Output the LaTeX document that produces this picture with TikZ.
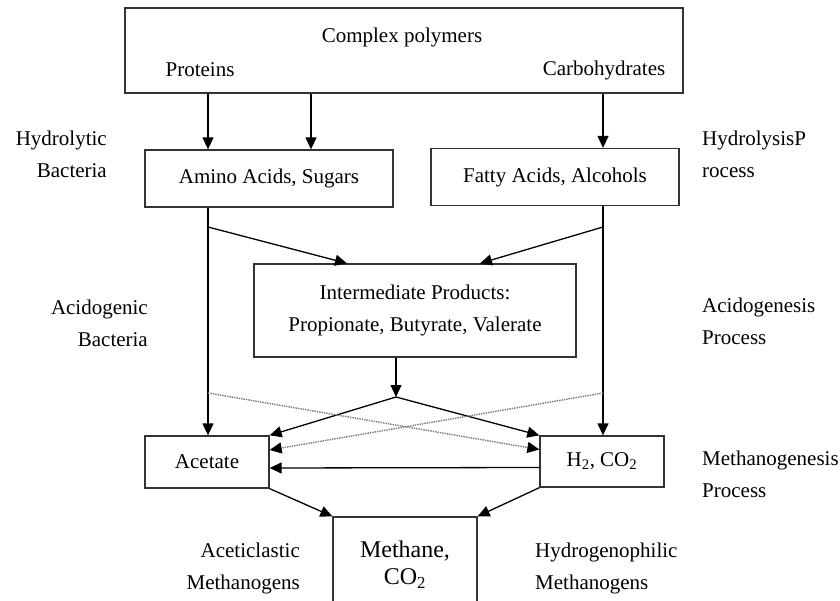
\documentclass[tikz,border=0pt]{standalone}
\usepackage{fontspec}
\setmainfont{Liberation Serif}
\usetikzlibrary{arrows.meta}
\definecolor{boxgray}{HTML}{333333}
\definecolor{dotgray}{HTML}{7a7a7a}

\begin{document}
\begin{tikzpicture}[x=1pt,y=-1pt,>={Triangle[length=12pt,width=11pt]},font=\fontsize{21}{32}\selectfont]
    \clip (0,0) rectangle (840,601);
    \fill[white] (0,0) rectangle (840,601);
    \begin{scope}[all/.style={draw=boxgray,fill=white,line width=1.3pt,inner sep=0pt,align=center},lbl/.style={inner sep=0pt}]
        \node[all, minimum width=558pt, minimum height=85pt] (b0) at (404, 50.5) {};
        \node[lbl] (t0) at (402, 37) {Complex polymers};
        \node[lbl] (t1) at (200, 70) {Proteins};
        \node[lbl] (t2) at (604, 70) {Carbohydrates};
        \node[all, minimum width=248pt, minimum height=57pt] (b1) at (269, 178.5) {Amino Acids, Sugars};
        \node[all, minimum width=248pt, minimum height=57pt] (b2) at (555, 177) {Fatty Acids, Alcohols};
        \node[all, minimum width=322pt, minimum height=93pt] (b3) at (415, 310.5) {Intermediate Products:\\Propionate, Butyrate, Valerate};
        \node[all, minimum width=124pt, minimum height=52pt] (b4) at (207, 462) {Acetate};
        \node[all, minimum width=124pt, minimum height=51pt] (b5) at (602, 461.5) {H\textsubscript{2}, CO\textsubscript{2}};
        \node[all, minimum width=144pt, minimum height=95pt, font=\fontsize{24}{27}\selectfont] (b6) at (405, 564.5) {Methane,\\CO\textsubscript{2}};
        % side labels
        \node[lbl, anchor=east, align=right] (p1) at (107, 154) {Hydrolytic\\Bacteria};
        \node[lbl, anchor=west, align=left] (p2) at (702, 154) {HydrolysisP\\rocess};
        \node[lbl, anchor=east, align=right] (p3) at (148, 323) {Acidogenic\\Bacteria};
        \node[lbl, anchor=west, align=left] (p4) at (702, 321) {Acidogenesis\\Process};
        \node[lbl, anchor=west, align=left] (p5) at (702, 474) {Methanogenesis\\Process};
        \node[lbl, anchor=east, align=right] (p6) at (300, 568) {Aceticlastic\\Methanogens};
        \node[lbl, anchor=west, align=left] (p7) at (535, 568) {Hydrogenophilic\\Methanogens};
        \coordinate (xl) at (208, 0);
        \coordinate (xm) at (311, 0);
        \coordinate (xr) at (603, 0);
        \coordinate (xa) at (347, 0);
        \coordinate (xb) at (480, 0);
        \coordinate (xc) at (396, 0);
        \coordinate (j1) at (208, 227);
        \coordinate (j2) at (603, 227);
        \coordinate (j3) at (396, 397);
        \coordinate (j4) at (208, 393);
        \coordinate (j5) at (603, 393);
        \begin{scope}[line width=1.3pt]
        \path[->] (b0.south -| xl) edge (b1.north -| xl) ;
        \path[->] (b0.south -| xm) edge (b1.north -| xm) ;
        \path[->] (b0.south -| xr) edge (b2.north -| xr) ;
        \path[->] (b1.south -| xl) edge (b4.north -| xl) ;
        \path[->] (b2.south -| xr) edge (b5.north -| xr) ;
        \path[->] (j1) edge (b3.north -| xa) ;
        \path[->] (j2) edge (b3.north -| xb) ;
        \path[->] (b3.south -| xc) edge (j3) ;
        \path[->] (j3) edge (b4.north east) ;
        \path[->] (j3) edge (b5.north west) ;
        \path[->] ([yshift=-6pt]b5.west) edge ([yshift=-6pt]b4.east) ;
        \path[->] (b4.south east) edge (b6.north west) ;
        \path[->] (b5.south west) edge (b6.north east) ;
        \end{scope}
        \begin{scope}[line width=1.4pt,>={Triangle[length=12pt,width=11pt,color=black]}]
        \path[->] (j4) edge[draw=dotgray, densely dotted] ([yshift=12pt]b5.west) ;
        \path[->] (j5) edge[draw=dotgray, densely dotted] ([yshift=12pt]b4.east) ;
        \end{scope}
    \end{scope}
\end{tikzpicture}
\end{document}
